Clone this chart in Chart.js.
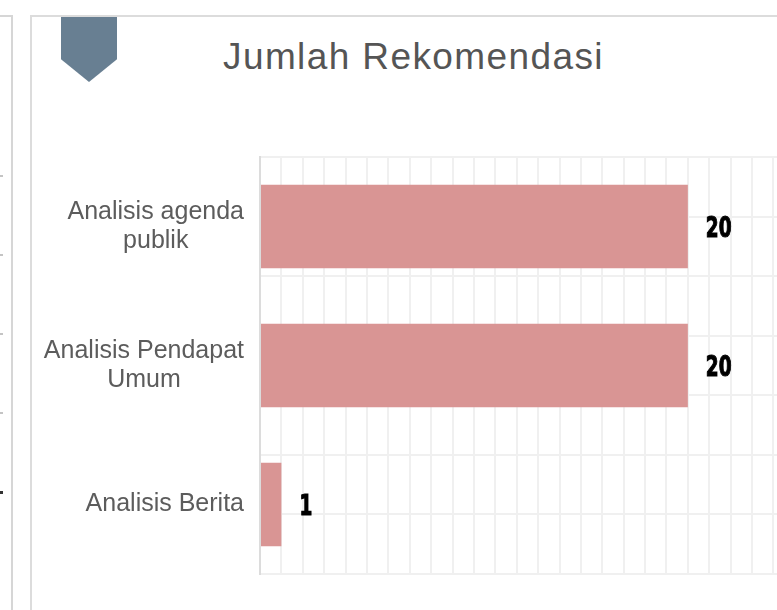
<!DOCTYPE html>
<html>
<head>
<meta charset="utf-8">
<title>Jumlah Rekomendasi</title>
<script src="https://cdn.jsdelivr.net/npm/chart.js@4/dist/chart.umd.min.js"></script>
<style>
  html, body { margin: 0; padding: 0; background: #fff; overflow: hidden; width: 777px; height: 610px; }
  .panel-left { position: absolute; left: -10px; top: 15px; width: 19px; height: 700px; border: 2px solid #d6d6d6; }
  .panel { position: absolute; left: 30px; top: 15px; width: 800px; height: 700px; border: 2px solid #dcdcdc; }
  .tick { position: absolute; left: 0; width: 3px; height: 2px; background: #c4c4c4; }
  .tick.dark { width: 3px; height: 3px; background: #333; }
  .badge { position: absolute; left: 61px; top: 17px; width: 56px; height: 65px; background: #687f92;
           clip-path: polygon(0 0, 100% 0, 100% 65%, 50% 100%, 0 65%); }
  .title { position: absolute; left: 223px; top: 38px; font: 37px/37px "Liberation Sans", Arial, sans-serif;
           letter-spacing: 1.4px; color: #555; white-space: nowrap; }
  #chart { position: absolute; left: 0; top: 0; }
</style>
</head>
<body>
<div class="panel-left"></div>
<div class="tick" style="top:175px"></div>
<div class="tick" style="top:254px"></div>
<div class="tick" style="top:333px"></div>
<div class="tick" style="top:412px"></div>
<div class="tick dark" style="top:491px"></div>
<div class="panel"></div>
<div class="badge"></div>
<div class="title">Jumlah Rekomendasi</div>
<canvas id="chart" width="870" height="610"></canvas>
<script>
// Data
const categories = [['Analisis agenda', 'publik'], ['Analisis Pendapat', 'Umum'], ['Analisis Berita']];
const values = [20, 20, 1];
const xMax = 28;

const barColor = '#d99594';
const gridColor = '#f0f0f0';

// value labels next to bars + centred multi-line category labels
const labelPlugin = {
    id: 'barLabels',
    afterDatasetsDraw(chart) {
        const ctx = chart.ctx;
        const meta = chart.getDatasetMeta(0);
        ctx.save();
        ctx.font = 'bold 28px "DejaVu Sans", sans-serif';
        ctx.fillStyle = '#000';
        ctx.strokeStyle = '#000';
        ctx.lineWidth = 1.2;
        ctx.textBaseline = 'alphabetic';
        ctx.textAlign = 'left';
        meta.data.forEach((bar, i) => {
            ctx.save();
            ctx.translate(bar.x + 18, bar.y + 10.5);
            ctx.scale(0.66, 1); // condensed look
            ctx.fillText(String(values[i]), 0, 0);
            ctx.strokeText(String(values[i]), 0, 0);
            ctx.restore();
        });

        const yScale = chart.scales.y;
        ctx.font = '25px "Liberation Sans", Arial, sans-serif';
        ctx.fillStyle = '#5c5c5c';
        ctx.textAlign = 'center';
        ctx.textBaseline = 'middle';
        categories.forEach((lines, i) => {
            const w = Math.max(...lines.map(l => ctx.measureText(l).width));
            const cx = chart.chartArea.left - 16 - w / 2;
            const cy = yScale.getPixelForValue(i);
            lines.forEach((line, j) => {
                ctx.fillText(line, cx, cy + (j - (lines.length - 1) / 2) * 29);
            });
        });
        ctx.restore();
    }
};

new Chart(document.getElementById('chart').getContext('2d'), {
    type: 'bar',
    data: {
        labels: categories,
        datasets: [{
            data: values,
            backgroundColor: barColor,
            borderWidth: 0,
            categoryPercentage: 1,
            barPercentage: 0.6
        }]
    },
    options: {
        indexAxis: 'y',
        responsive: false,
        animation: false,
        devicePixelRatio: 1,
        layout: { padding: { top: 157, bottom: 36, left: 0, right: 11 } },
        plugins: { legend: { display: false }, tooltip: { enabled: false }, title: { display: false } },
        scales: {
            x: {
                type: 'linear',
                min: 0,
                max: xMax,
                ticks: { display: false, stepSize: 1 },
                grid: { color: gridColor, lineWidth: 2, drawTicks: false },
                border: { display: false }
            },
            y: {
                type: 'category',
                position: 'left',
                ticks: { display: false },
                grid: { display: false, drawTicks: false },
                border: { display: true, color: '#dcdcdc', width: 2 },
                afterFit(scale) { scale.width = 260; }
            },
            yGrid: {
                type: 'linear',
                position: 'right',
                axis: 'y',
                min: 0,
                max: 3,
                ticks: { display: false, stepSize: 0.5 },
                grid: { color: gridColor, lineWidth: 2, drawTicks: false },
                border: { display: false }
            }
        }
    },
    plugins: [labelPlugin]
});
</script>
</body>
</html>
